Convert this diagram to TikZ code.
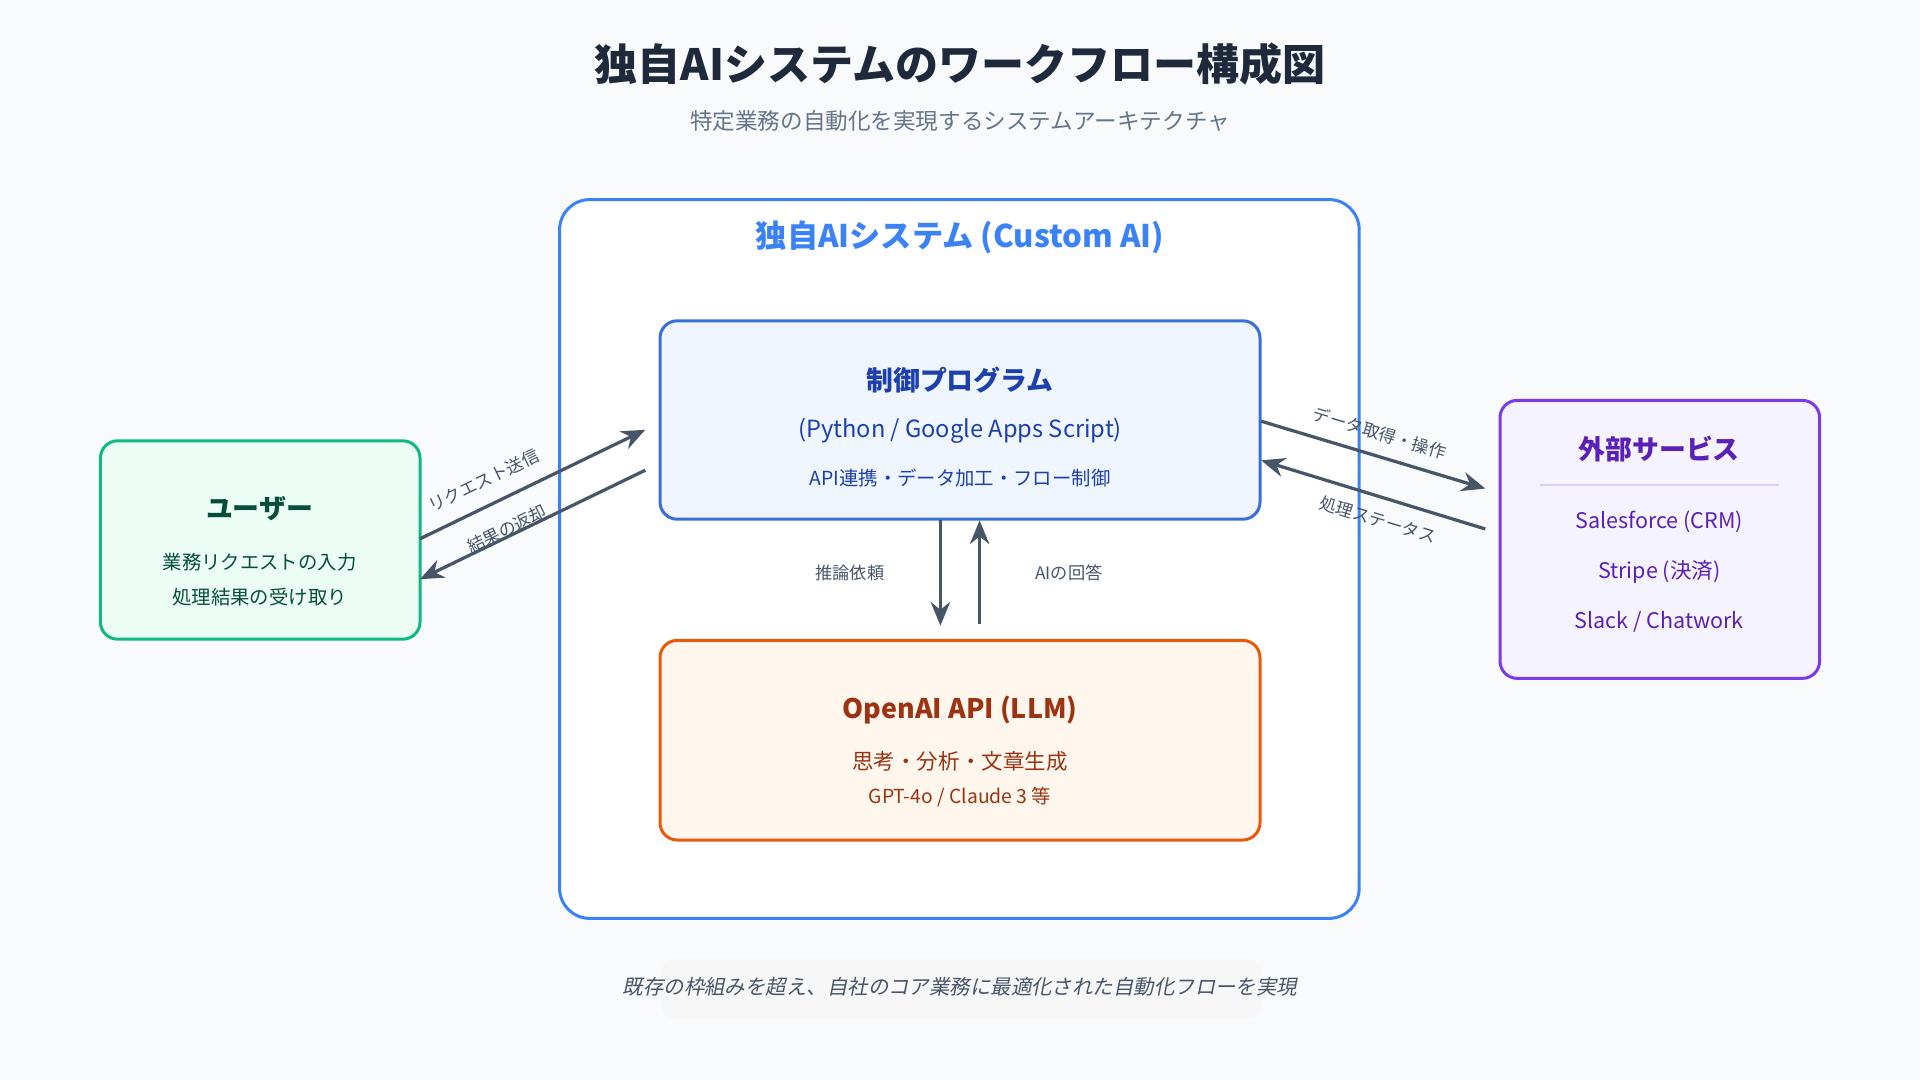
\documentclass[tikz,border=0pt]{standalone}
\usepackage{fontspec}
\setmainfont{Noto Sans CJK JP}
\newfontfamily\slantjp{Noto Sans CJK JP}[FakeSlant=0.2]
\usetikzlibrary{arrows.meta,positioning}
\definecolor{bgcol}{HTML}{F8FAFC}
\definecolor{slate}{HTML}{475569}
\definecolor{titlecol}{HTML}{1E293B}
\definecolor{subcol}{HTML}{64748B}
\definecolor{sysblue}{HTML}{3B82F6}
\definecolor{ctlfill}{HTML}{EFF6FF}
\definecolor{ctldraw}{HTML}{3B6FD8}
\definecolor{ctltext}{HTML}{1E40AF}
\definecolor{llmfill}{HTML}{FFF7ED}
\definecolor{llmdraw}{HTML}{EA580C}
\definecolor{llmtext}{HTML}{9A3412}
\definecolor{usrfill}{HTML}{ECFDF5}
\definecolor{usrdraw}{HTML}{10B981}
\definecolor{usrtext}{HTML}{064E3B}
\definecolor{extfill}{HTML}{F5F3FF}
\definecolor{extdraw}{HTML}{7C3AED}
\definecolor{exttext}{HTML}{5B21B6}
\tikzset{
  box/.style={draw, rounded corners=8pt, line width=1.4pt},
  txt/.style={inner sep=0pt, align=center},
  flow/.style={draw=slate, line width=1.5pt, -{Stealth[length=11pt,width=9pt]}},
  lbl/.style={inner sep=1pt, text=slate, font=\fontsize{8}{9}\selectfont}
}
\begin{document}
\begin{tikzpicture}[x=0.02cm, y=-0.02cm]
  \useasboundingbox (0,0) rectangle (1568,882);
  \fill[bgcol] (0,0) rectangle (1568,882);
  % title
  \node (title) [txt, text=titlecol, font=\fontsize{20}{23}\selectfont\bfseries] at (784,52) {独自AIシステムのワークフロー構成図};
  \node (sub) [txt, text=subcol, font=\fontsize{10.5}{12}\selectfont] at (784,99) {特定業務の自動化を実現するシステムアーキテクチャ};
  % system frame
  \draw[box, draw=sysblue, fill=white, rounded corners=14pt] (457,163) rectangle (1110,750);
  \node (sys) [txt, text=sysblue, font=\fontsize{14.5}{17}\selectfont\bfseries] at (784,194) {独自AIシステム (Custom AI)};
  % control program
  \draw[box, draw=ctldraw, fill=ctlfill] (539,262) rectangle (1029,424);
  \node (ctl) [txt, text=ctltext, font=\fontsize{12.5}{15}\selectfont\bfseries] at (784,310) {制御プログラム};
  \node (ctla) [txt, text=ctltext, font=\fontsize{11}{13}\selectfont] at (784,352) {(Python / Google Apps Script)};
  \node (ctlb) [txt, text=ctltext, font=\fontsize{9}{11}\selectfont] at (784,390) {API連携・データ加工・フロー制御};
  % llm
  \draw[box, draw=llmdraw, fill=llmfill] (539,523) rectangle (1029,686);
  \node (llm) [txt, text=llmtext, font=\fontsize{12.5}{15}\selectfont\bfseries] at (784,580) {OpenAI API (LLM)};
  \node (llma) [txt, text=llmtext, font=\fontsize{10}{12}\selectfont] at (784,622) {思考・分析・文章生成};
  \node (llmb) [txt, text=llmtext, font=\fontsize{9}{11}\selectfont] at (784,651) {GPT-4o / Claude 3 等};
  % user
  \draw[box, draw=usrdraw, fill=usrfill] (82,360) rectangle (343,522);
  \node (usr) [txt, text=usrtext, font=\fontsize{12.5}{15}\selectfont\bfseries] at (212,415) {ユーザー};
  \node (usra) [txt, text=usrtext, font=\fontsize{9}{11}\selectfont] at (212,459) {業務リクエストの入力};
  \node (usrb) [txt, text=usrtext, font=\fontsize{9}{11}\selectfont] at (212,488) {処理結果の受け取り};
  % external
  \draw[box, draw=extdraw, fill=extfill] (1225,327) rectangle (1486,554);
  \node (ext) [txt, text=exttext, font=\fontsize{12.5}{15}\selectfont\bfseries] at (1355,367) {外部サービス};
  \draw[draw=extdraw!25, line width=0.8pt] (1258,396) -- (1453,396);
  \node (exta) [txt, text=exttext, font=\fontsize{10}{12}\selectfont] at (1355,426) {Salesforce (CRM)};
  \node (extb) [txt, text=exttext, font=\fontsize{10}{12}\selectfont] at (1355,467) {Stripe (決済)};
  \node (extc) [txt, text=exttext, font=\fontsize{10}{12}\selectfont] at (1355,508) {Slack / Chatwork};
  % arrow ends
  \coordinate (u1) at (343,440); \coordinate (c1) at (527,351);
  \coordinate (c2) at (527,384); \coordinate (u2) at (343,473);
  \coordinate (c3) at (1030,344); \coordinate (e1) at (1213,399);
  \coordinate (e2) at (1213,432); \coordinate (c4) at (1030,376);
  \coordinate (d1) at (768,425); \coordinate (d2) at (768,511);
  \coordinate (p1) at (800,510); \coordinate (p2) at (800,425);
  \draw[flow] (u1) -- node[lbl, pos=0.33, above=6pt, sloped] (reql) {リクエスト送信} (c1);
  \draw[flow] (c2) -- node[lbl, pos=0.6, above=-2pt, sloped] (resl) {結果の返却} (u2);
  \draw[flow] (c3) -- node[lbl, pos=0.5, above=5pt, sloped] (getl) {データ取得・操作} (e1);
  \draw[flow] (e2) -- node[lbl, pos=0.45, below=5pt, sloped] (stl) {処理ステータス} (c4);
  \draw[flow] (d1) -- (d2);
  \draw[flow] (p1) -- (p2);
  \node (infl) [lbl] at (694,468) {推論依頼};
  \node (ansl) [lbl] at (873,468) {AIの回答};
  % footer
  \fill[black!3, rounded corners=6pt] (540,783) rectangle (1030,832);
  \node (foot) [txt, text=slate, font=\fontsize{9.5}{11}\selectfont\slantjp] at (784,806) {既存の枠組みを超え、自社のコア業務に最適化された自動化フローを実現};
\end{tikzpicture}
\end{document}
